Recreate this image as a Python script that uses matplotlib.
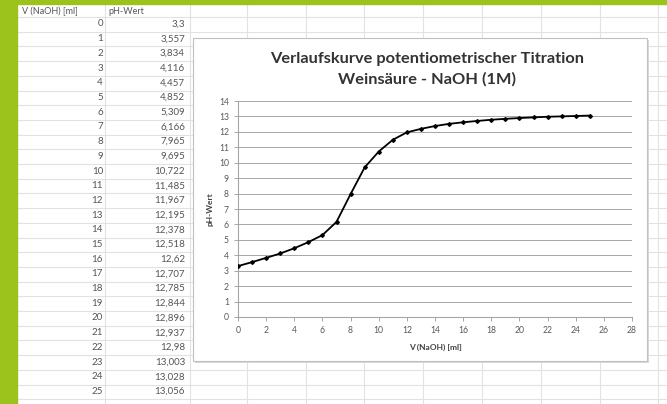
import numpy as np
import matplotlib
matplotlib.use('Agg')
import matplotlib.pyplot as plt
from matplotlib.patches import Rectangle

plt.rcParams['font.family'] = ['Lato', 'DejaVu Sans']

volume = [0, 1, 2, 3, 4, 5, 6, 7, 8, 9, 10, 11, 12, 13, 14, 15, 16, 17, 18, 19, 20, 21, 22, 23, 24, 25]
ph = [3.3, 3.557, 3.834, 4.116, 4.457, 4.852, 5.309, 6.166, 7.965, 9.695, 10.722, 11.485, 11.967,
      12.195, 12.378, 12.518, 12.62, 12.707, 12.785, 12.844, 12.896, 12.937, 12.98, 13.003, 13.028, 13.056]
col_a_header = 'V (NaOH) [ml]'
col_b_header = 'pH-Wert'
title = 'Verlaufskurve potentiometrischer Titration\nWeinsäure - NaOH (1M)'
xlabel = 'V (NaOH) [ml]'
ylabel = 'pH-Wert'

W, H = 667, 404
fig = plt.figure(figsize=(W / 100, H / 100), dpi=100)
fig.patch.set_facecolor('white')

# spreadsheet background in pixel coordinates
bg = fig.add_axes([0, 0, 1, 1])
bg.set_xlim(0, W)
bg.set_ylim(H, 0)
bg.axis('off')

grid_c = '#e2e2e2'
row0, row_h = 24, 14.7
for i in range(len(volume) + 1):
    bg.axhline(17 + row_h * i, color=grid_c, lw=0.8)
for x in [105, 190] + [188 + 58.8 * k for k in range(1, 9)]:
    bg.axvline(x, color=grid_c, lw=0.8)

green = '#9bc31c'
bg.add_patch(Rectangle((0, 0), 17, H, color=green, zorder=5))
bg.add_patch(Rectangle((0, 0), W, 4, color=green, zorder=5))

txt_c = '#555555'
bg.text(22, 11, col_a_header, fontsize=6.5, color=txt_c, va='center')
bg.text(108, 11, col_b_header, fontsize=6.5, color=txt_c, va='center')
for i, (v, p) in enumerate(zip(volume, ph)):
    y = row0 + row_h * i
    bg.text(103, y, str(v), fontsize=7, color=txt_c, ha='right', va='center')
    bg.text(185, y, str(p).replace('.', ','), fontsize=7, color=txt_c, ha='right', va='center')

# chart box
bg.add_patch(Rectangle((195, 40), 454, 323, facecolor='#d9d9d9', edgecolor='none', zorder=6))
bg.add_patch(Rectangle((193, 38), 454, 323, facecolor='white', edgecolor='#c0c0c0', lw=0.8, zorder=7))
bg.text(427, 69.5, title, fontsize=11.8, fontweight='bold', color='#333333',
        ha='center', va='center', linespacing=1.5, zorder=8)

ax = fig.add_axes([238 / W, 1 - 317 / H, (632 - 238) / W, (317 - 101) / H])
ax.set_facecolor('none')
ax.plot(volume, ph, color='black', lw=1.3, marker='D', ms=1.9, zorder=3)
ax.set_xlim(0, 28)
ax.set_ylim(0, 14)
ax.set_xticks(np.arange(0, 29, 2))
ax.set_yticks(np.arange(0, 15, 1))
ax.grid(axis='y', color='#a6a6a6', lw=0.7)
for s in ['top', 'right']:
    ax.spines[s].set_visible(False)
for s in ['left', 'bottom']:
    ax.spines[s].set_color('#a6a6a6')
    ax.spines[s].set_linewidth(0.8)
ax.tick_params(colors='#a6a6a6', labelcolor='#595959', labelsize=6.2, length=3, width=0.7)
ax.set_xlabel(xlabel, fontsize=6, fontweight='bold', color='#404040', labelpad=6)
ax.set_ylabel(ylabel, fontsize=6, fontweight='bold', color='#404040', labelpad=4)

fig.savefig('out.png', dpi=100)
